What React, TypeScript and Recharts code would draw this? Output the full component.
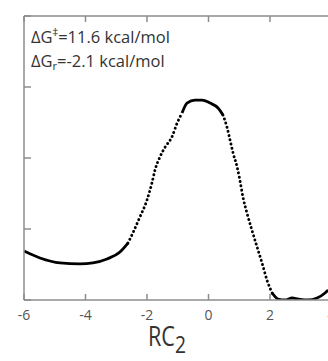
import { LineChart, Line, XAxis, YAxis } from "recharts";

// reaction coordinate RC2 and free energy (kcal/mol)
const rc = [
  -6.0, -5.48, -4.83, -4.18, -3.76, -3.3, -2.88, -2.62, -2.46, -2.23, -2.0, -1.84, -1.74, -1.58, -1.41,
  -1.19, -1.02, -0.86, -0.7, -0.44, -0.21, 0.05, 0.31, 0.47, 0.6, 0.7, 0.8, 0.93, 1.02, 1.12, 1.25,
  1.41, 1.58, 1.74, 1.9, 2.07, 2.26, 2.49, 2.72, 2.91, 3.24, 3.53, 3.79, 3.89,
];
const energy = [
  3.45, 2.96, 2.61, 2.54, 2.61, 2.89, 3.38, 4.01, 4.72, 5.85, 7.04, 8.24, 9.15, 10.07, 10.77,
  11.48, 12.46, 13.17, 13.87, 14.08, 14.08, 13.87, 13.52, 13.03, 12.18, 11.27, 10.35, 9.37, 8.45,
  7.25, 6.13, 4.93, 3.73, 2.61, 1.41, 0.49, 0.07, 0.0, 0.14, 0.07, 0.0, 0.14, 0.49, 0.7,
];
// stretches where the sampled points spread apart and look dotted
const steepRanges: [number, number][] = [
  [-2.62, -0.86],
  [0.47, 2.07],
];
const xTicks = [-6, -4, -2, 0, 2, 4];
const yTicks = [0, 5, 10, 15, 20];

const inSteep = (x: number) => steepRanges.some(([a, b]) => x >= a && x <= b);
const isEdge = (x: number) => steepRanges.some(([a, b]) => x === a || x === b);

const data = rc.map((x, i) => ({
  x,
  solid: !inSteep(x) || isEdge(x) ? energy[i] : null,
  dotted: inSteep(x) ? energy[i] : null,
}));

const AXIS = "#8c8c8c";
const FONT = "'Open Sans', 'Noto Sans', sans-serif";

function BottomTick({ x, y, payload }: any) {
  return (
    <g>
      <line x1={x} y1={y} x2={x} y2={y - 6} stroke={AXIS} strokeWidth={1.5} />
      <text x={x} y={y + 20} textAnchor="middle" fontSize={14} fill="#555" fontFamily={FONT}>
        {payload.value}
      </text>
    </g>
  );
}
function TopTick({ x, y }: any) {
  return <line x1={x} y1={y} x2={x} y2={y + 6} stroke={AXIS} strokeWidth={1.5} />;
}
function LeftTick({ x, y }: any) {
  return <line x1={x} y1={y} x2={x + 7} y2={y} stroke={AXIS} strokeWidth={1.5} />;
}
function RightTick({ x, y }: any) {
  return <line x1={x} y1={y} x2={x - 7} y2={y} stroke={AXIS} strokeWidth={1.5} />;
}

export default function App() {
  return (
    <div style={{ position: "relative", width: 340, height: 361, background: "#fff" }}>
      <style>{`body{margin:0;overflow:hidden;background:#fff}`}</style>
      <LineChart width={340} height={361} data={data} margin={{ top: 15, right: 7.5, bottom: 21, left: 23 }}>
        <XAxis
          dataKey="x"
          type="number"
          domain={[-6, 4]}
          ticks={xTicks}
          interval={0}
          height={40}
          tickSize={0}
          tickMargin={0}
          tickLine={false}
          axisLine={{ stroke: AXIS, strokeWidth: 1.5 }}
          tick={<BottomTick />}
          allowDataOverflow
        />
        <XAxis
          xAxisId="top"
          orientation="top"
          dataKey="x"
          type="number"
          domain={[-6, 4]}
          ticks={xTicks}
          interval={0}
          height={1}
          tickSize={0}
          tickMargin={0}
          tickLine={false}
          axisLine={{ stroke: AXIS, strokeWidth: 1.5 }}
          tick={<TopTick />}
        />
        <YAxis
          type="number"
          domain={[0, 20]}
          ticks={yTicks}
          interval={0}
          width={1}
          tickSize={0}
          tickMargin={0}
          tickLine={false}
          axisLine={{ stroke: AXIS, strokeWidth: 1.5 }}
          tick={<LeftTick />}
          allowDataOverflow
        />
        <YAxis
          yAxisId="right"
          orientation="right"
          type="number"
          domain={[0, 20]}
          ticks={yTicks}
          interval={0}
          width={1}
          tickSize={0}
          tickMargin={0}
          tickLine={false}
          axisLine={{ stroke: AXIS, strokeWidth: 1.5 }}
          tick={<RightTick />}
        />
        <Line
          dataKey="solid"
          type="monotone"
          stroke="#000"
          strokeWidth={2.8}
          dot={false}
          connectNulls={false}
          isAnimationActive={false}
        />
        <Line
          dataKey="dotted"
          type="monotone"
          stroke="#000"
          strokeWidth={2.9}
          strokeDasharray="0.1 4.2"
          strokeLinecap="round"
          dot={false}
          connectNulls={false}
          isAnimationActive={false}
        />
      </LineChart>
      <div
        style={{
          position: "absolute",
          left: 31,
          top: 25,
          fontFamily: FONT,
          fontSize: 16.5,
          lineHeight: "24px",
          color: "#333",
          whiteSpace: "nowrap",
        }}
      >
        <div>
          ΔG<sup style={{ fontSize: 11, verticalAlign: "7px", lineHeight: 0 }}>‡</sup>=11.6 kcal/mol
        </div>
        <div>
          ΔG<sub style={{ fontSize: 11, verticalAlign: "-3px", lineHeight: 0 }}>r</sub>=-2.1 kcal/mol
        </div>
      </div>
      <div
        style={{
          position: "absolute",
          left: 148,
          top: 327,
          fontFamily: FONT,
          fontSize: 27,
          color: "#333",
          whiteSpace: "nowrap",
          transform: "scaleX(0.8)",
          transformOrigin: "left top",
          lineHeight: "18px",
        }}
      >
        RC<span style={{ fontSize: 24, position: "relative", top: 7 }}>2</span>
      </div>
    </div>
  );
}
